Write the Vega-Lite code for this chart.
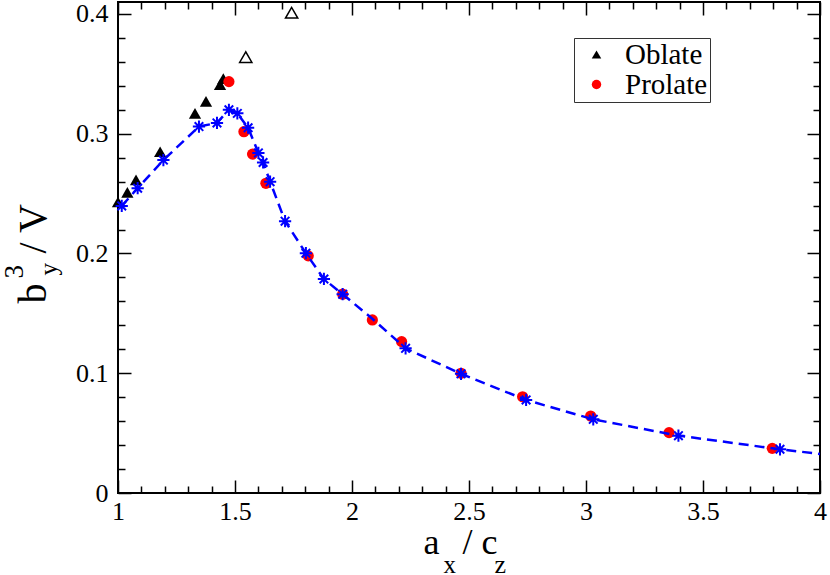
{
  "$schema": "https://vega.github.io/schema/vega-lite/v6.json",
  "width": 702,
  "height": 491,
  "autosize": {"type": "none"},
  "padding": {"left": 118, "top": 2, "right": 10, "bottom": 82},
  "background": "white",
  "datasets": {
    "oblate_a": [
      {"x": 1.0, "y": 0.243, "type": "Oblate"},
      {"x": 1.04, "y": 0.251, "type": "Oblate"},
      {"x": 1.077, "y": 0.2615, "type": "Oblate"},
      {"x": 1.18, "y": 0.285, "type": "Oblate"}
    ],
    "oblate_b": [
      {"x": 1.329, "y": 0.317, "type": "Oblate"},
      {"x": 1.376, "y": 0.327, "type": "Oblate"},
      {"x": 1.436, "y": 0.341, "type": "Oblate"},
      {"x": 1.45, "y": 0.346, "type": "Oblate"}
    ],
    "open": [
      {"x": 1.546, "y": 0.364},
      {"x": 1.742, "y": 0.401}
    ],
    "prolate_a": [
      {"x": 1.474, "y": 0.3435, "type": "Prolate"},
      {"x": 1.538, "y": 0.3017, "type": "Prolate"},
      {"x": 1.575, "y": 0.283, "type": "Prolate"},
      {"x": 1.632, "y": 0.2586, "type": "Prolate"},
      {"x": 1.813, "y": 0.198, "type": "Prolate"},
      {"x": 1.96, "y": 0.166, "type": "Prolate"},
      {"x": 2.087, "y": 0.1445, "type": "Prolate"}
    ],
    "prolate_b": [
      {"x": 2.212, "y": 0.1264, "type": "Prolate"},
      {"x": 2.466, "y": 0.1, "type": "Prolate"},
      {"x": 2.729, "y": 0.0804, "type": "Prolate"},
      {"x": 3.02, "y": 0.0643, "type": "Prolate"},
      {"x": 3.355, "y": 0.0504, "type": "Prolate"},
      {"x": 3.796, "y": 0.0373, "type": "Prolate"}
    ],
    "stars_a": [
      {"x": 1.016, "y": 0.2397},
      {"x": 1.084, "y": 0.2545},
      {"x": 1.194, "y": 0.278},
      {"x": 1.346, "y": 0.306},
      {"x": 1.423, "y": 0.309},
      {"x": 1.474, "y": 0.32},
      {"x": 1.51, "y": 0.317},
      {"x": 1.556, "y": 0.305},
      {"x": 1.6, "y": 0.284},
      {"x": 1.62, "y": 0.276},
      {"x": 1.65, "y": 0.26}
    ],
    "stars_b": [
      {"x": 1.714, "y": 0.227},
      {"x": 1.803, "y": 0.2002},
      {"x": 1.88, "y": 0.1787},
      {"x": 1.96, "y": 0.166},
      {"x": 2.229, "y": 0.1208},
      {"x": 2.466, "y": 0.0995},
      {"x": 2.744, "y": 0.0777},
      {"x": 3.031, "y": 0.0615},
      {"x": 3.395, "y": 0.0479},
      {"x": 3.829, "y": 0.0365}
    ],
    "curve": [
      {"x": 1.016, "y": 0.2397},
      {"x": 1.084, "y": 0.2545},
      {"x": 1.194, "y": 0.278},
      {"x": 1.346, "y": 0.306},
      {"x": 1.423, "y": 0.309},
      {"x": 1.474, "y": 0.32},
      {"x": 1.51, "y": 0.317},
      {"x": 1.556, "y": 0.305},
      {"x": 1.6, "y": 0.284},
      {"x": 1.62, "y": 0.276},
      {"x": 1.65, "y": 0.26},
      {"x": 1.714, "y": 0.227},
      {"x": 1.803, "y": 0.2002},
      {"x": 1.88, "y": 0.1787},
      {"x": 1.96, "y": 0.166},
      {"x": 2.087, "y": 0.1455},
      {"x": 2.229, "y": 0.1208},
      {"x": 2.466, "y": 0.0995},
      {"x": 2.744, "y": 0.0777},
      {"x": 3.031, "y": 0.0615},
      {"x": 3.395, "y": 0.0479},
      {"x": 3.829, "y": 0.0365},
      {"x": 4.0, "y": 0.0326}
    ]
  },
  "resolve": {"axis": {"x": "independent", "y": "independent"}},
  "layer": [
    {
      "data": {"name": "oblate_a"},
      "mark": {"type": "point", "filled": true, "opacity": 1, "size": 150, "strokeWidth": 0},
      "encoding": {
        "x": {
          "field": "x", "type": "quantitative",
          "scale": {"domain": [1, 4], "nice": false, "zero": false},
          "axis": {
            "orient": "bottom", "values": [1, 1.5, 2, 2.5, 3, 3.5, 4], "format": "~g",
            "ticks": false, "tickSize": 0, "labelFont": "Liberation Serif", "labelFontSize": 26, "labelPadding": 5,
            "labelFlush": false, "labelOverlap": false,
            "title": "a", "titleFont": "Liberation Serif", "titleFontSize": 36, "titleX": 305, "titleY": 60,
            "titleAlign": "left", "titleBaseline": "alphabetic"
          }
        },
        "y": {
          "field": "y", "type": "quantitative",
          "scale": {"domain": [0, 0.41], "nice": false, "zero": false},
          "axis": {
            "orient": "left", "values": [0, 0.1, 0.2, 0.3, 0.4], "format": "~g",
            "ticks": false, "tickSize": 0, "labelFont": "Liberation Serif", "labelFontSize": 26, "labelPadding": 10,
            "labelFlush": false, "labelOverlap": false,
            "title": "b", "titleFont": "Liberation Serif", "titleFontSize": 40, "titleAngle": 270, "titleX": -73, "titleY": 301,
            "titleAlign": "left", "titleBaseline": "alphabetic"
          }
        },
        "color": {
          "field": "type", "type": "nominal",
          "scale": {"domain": ["Oblate", "Prolate"], "range": ["black", "#ff0000"]},
          "legend": {"title": null, "labelFont": "Liberation Serif"}
        },
        "shape": {
          "field": "type", "type": "nominal",
          "scale": {"domain": ["Oblate", "Prolate"], "range": ["triangle-up", "circle"]},
          "legend": {"title": null, "labelFont": "Liberation Serif"}
        }
      }
    },
    {
      "data": {"name": "oblate_b"},
      "mark": {"type": "point", "filled": true, "opacity": 1, "size": 150, "strokeWidth": 0},
      "encoding": {
        "x": {
          "field": "x", "type": "quantitative",
          "scale": {"domain": [1, 4], "nice": false, "zero": false},
          "axis": {
            "orient": "bottom", "values": [1, 1.5, 2, 2.5, 3, 3.5, 4],
            "labels": false, "offset": -13, "tickSize": 13, "tickColor": "black", "tickWidth": 1.5, "title": null
          }
        },
        "y": {
          "field": "y", "type": "quantitative",
          "scale": {"domain": [0, 0.41], "nice": false, "zero": false},
          "axis": {
            "orient": "left", "values": [0, 0.1, 0.2, 0.3, 0.4],
            "labels": false, "offset": -13, "tickSize": 13, "tickColor": "black", "tickWidth": 1.5, "title": null
          }
        },
        "color": {
          "field": "type", "type": "nominal",
          "scale": {"domain": ["Oblate", "Prolate"], "range": ["black", "#ff0000"]},
          "legend": {"title": null, "labelFont": "Liberation Serif"}
        },
        "shape": {
          "field": "type", "type": "nominal",
          "scale": {"domain": ["Oblate", "Prolate"], "range": ["triangle-up", "circle"]},
          "legend": {"title": null, "labelFont": "Liberation Serif"}
        }
      }
    },
    {
      "data": {"name": "open"},
      "mark": {"type": "point", "shape": "triangle-up", "filled": false, "color": "black", "opacity": 1, "size": 150, "strokeWidth": 1.5},
      "encoding": {
        "x": {
          "field": "x", "type": "quantitative",
          "scale": {"domain": [1, 4], "nice": false, "zero": false},
          "axis": {
            "orient": "bottom",
            "values": [1.1, 1.2, 1.3, 1.4, 1.6, 1.7, 1.8, 1.9, 2.1, 2.2, 2.3, 2.4, 2.6, 2.7, 2.8, 2.9, 3.1, 3.2, 3.3, 3.4, 3.6, 3.7, 3.8, 3.9],
            "labels": false, "offset": -7, "tickSize": 7, "tickColor": "black", "tickWidth": 1.5, "title": null
          }
        },
        "y": {
          "field": "y", "type": "quantitative",
          "scale": {"domain": [0, 0.41], "nice": false, "zero": false},
          "axis": {
            "orient": "left",
            "values": [0.02, 0.04, 0.06, 0.08, 0.12, 0.14, 0.16, 0.18, 0.22, 0.24, 0.26, 0.28, 0.32, 0.34, 0.36, 0.38],
            "labels": false, "offset": -7, "tickSize": 7, "tickColor": "black", "tickWidth": 1.5, "title": null
          }
        }
      }
    },
    {
      "data": {"name": "prolate_a"},
      "mark": {"type": "point", "filled": true, "opacity": 1, "size": 125, "strokeWidth": 0},
      "encoding": {
        "x": {
          "field": "x", "type": "quantitative",
          "scale": {"domain": [1, 4], "nice": false, "zero": false},
          "axis": {
            "orient": "top", "values": [1, 1.5, 2, 2.5, 3, 3.5, 4],
            "labels": false, "offset": -13, "tickSize": 13, "tickColor": "black", "tickWidth": 1.5, "title": null
          }
        },
        "y": {
          "field": "y", "type": "quantitative",
          "scale": {"domain": [0, 0.41], "nice": false, "zero": false},
          "axis": {
            "orient": "right", "values": [0, 0.1, 0.2, 0.3, 0.4],
            "labels": false, "offset": -13, "tickSize": 13, "tickColor": "black", "tickWidth": 1.5, "title": null
          }
        },
        "color": {
          "field": "type", "type": "nominal",
          "scale": {"domain": ["Oblate", "Prolate"], "range": ["black", "#ff0000"]},
          "legend": {"title": null, "labelFont": "Liberation Serif"}
        },
        "shape": {
          "field": "type", "type": "nominal",
          "scale": {"domain": ["Oblate", "Prolate"], "range": ["triangle-up", "circle"]},
          "legend": {"title": null, "labelFont": "Liberation Serif"}
        }
      }
    },
    {
      "data": {"name": "prolate_b"},
      "mark": {"type": "point", "filled": true, "opacity": 1, "size": 125, "strokeWidth": 0},
      "encoding": {
        "x": {
          "field": "x", "type": "quantitative",
          "scale": {"domain": [1, 4], "nice": false, "zero": false},
          "axis": {
            "orient": "top",
            "values": [1.1, 1.2, 1.3, 1.4, 1.6, 1.7, 1.8, 1.9, 2.1, 2.2, 2.3, 2.4, 2.6, 2.7, 2.8, 2.9, 3.1, 3.2, 3.3, 3.4, 3.6, 3.7, 3.8, 3.9],
            "labels": false, "offset": -7, "tickSize": 7, "tickColor": "black", "tickWidth": 1.5, "title": null
          }
        },
        "y": {
          "field": "y", "type": "quantitative",
          "scale": {"domain": [0, 0.41], "nice": false, "zero": false},
          "axis": {
            "orient": "right",
            "values": [0.02, 0.04, 0.06, 0.08, 0.12, 0.14, 0.16, 0.18, 0.22, 0.24, 0.26, 0.28, 0.32, 0.34, 0.36, 0.38],
            "labels": false, "offset": -7, "tickSize": 7, "tickColor": "black", "tickWidth": 1.5, "title": null
          }
        },
        "color": {
          "field": "type", "type": "nominal",
          "scale": {"domain": ["Oblate", "Prolate"], "range": ["black", "#ff0000"]},
          "legend": {"title": null, "labelFont": "Liberation Serif"}
        },
        "shape": {
          "field": "type", "type": "nominal",
          "scale": {"domain": ["Oblate", "Prolate"], "range": ["triangle-up", "circle"]},
          "legend": {"title": null, "labelFont": "Liberation Serif"}
        }
      }
    },
    {
      "data": {"name": "curve"},
      "mark": {"type": "line", "color": "#0000ff", "strokeWidth": 2.5, "strokeDash": [10, 6]},
      "encoding": {
        "x": {
          "field": "x", "type": "quantitative",
          "scale": {"domain": [1, 4], "nice": false, "zero": false},
          "axis": {
            "orient": "bottom", "ticks": false, "labels": false, "domain": false,
            "title": "x", "titleFont": "Liberation Serif", "titleFontSize": 25, "titleX": 325, "titleY": 79,
            "titleAlign": "left", "titleBaseline": "alphabetic"
          }
        },
        "y": {
          "field": "y", "type": "quantitative",
          "scale": {"domain": [0, 0.41], "nice": false, "zero": false},
          "axis": {
            "orient": "left", "ticks": false, "labels": false, "domain": false,
            "title": "3", "titleFont": "Liberation Serif", "titleFontSize": 27, "titleAngle": 270, "titleX": -96, "titleY": 276,
            "titleAlign": "left", "titleBaseline": "alphabetic"
          }
        }
      }
    },
    {
      "data": {"name": "stars_a"},
      "mark": {"type": "point", "shape": "M-1,0H1M0,-1V1M-0.7,-0.7L0.7,0.7M-0.7,0.7L0.7,-0.7", "filled": false, "color": "#0000ff", "opacity": 1, "size": 150, "strokeWidth": 2},
      "encoding": {
        "x": {
          "field": "x", "type": "quantitative",
          "scale": {"domain": [1, 4], "nice": false, "zero": false},
          "axis": {
            "orient": "bottom", "ticks": false, "labels": false, "domain": false,
            "title": "/ c", "titleFont": "Liberation Serif", "titleFontSize": 36, "titleX": 344, "titleY": 60,
            "titleAlign": "left", "titleBaseline": "alphabetic"
          }
        },
        "y": {
          "field": "y", "type": "quantitative",
          "scale": {"domain": [0, 0.41], "nice": false, "zero": false},
          "axis": {
            "orient": "left", "ticks": false, "labels": false, "domain": false,
            "title": "y", "titleFont": "Liberation Serif", "titleFontSize": 25, "titleAngle": 270, "titleX": -62, "titleY": 273,
            "titleAlign": "left", "titleBaseline": "alphabetic"
          }
        }
      }
    },
    {
      "data": {"name": "stars_b"},
      "mark": {"type": "point", "shape": "M-1,0H1M0,-1V1M-0.7,-0.7L0.7,0.7M-0.7,0.7L0.7,-0.7", "filled": false, "color": "#0000ff", "opacity": 1, "size": 150, "strokeWidth": 2},
      "encoding": {
        "x": {
          "field": "x", "type": "quantitative",
          "scale": {"domain": [1, 4], "nice": false, "zero": false},
          "axis": {
            "orient": "bottom", "ticks": false, "labels": false, "domain": false,
            "title": "z", "titleFont": "Liberation Serif", "titleFontSize": 26, "titleX": 376, "titleY": 79,
            "titleAlign": "left", "titleBaseline": "alphabetic"
          }
        },
        "y": {
          "field": "y", "type": "quantitative",
          "scale": {"domain": [0, 0.41], "nice": false, "zero": false},
          "axis": {
            "orient": "left", "ticks": false, "labels": false, "domain": false,
            "title": "/ V", "titleFont": "Liberation Serif", "titleFontSize": 40, "titleAngle": 270, "titleX": -73, "titleY": 251,
            "titleAlign": "left", "titleBaseline": "alphabetic"
          }
        }
      }
    }
  ],
  "config": {
    "font": "Liberation Serif",
    "view": {"stroke": "black", "strokeWidth": 2},
    "axis": {
      "grid": false, "domain": false,
      "labelFont": "Liberation Serif", "labelColor": "black",
      "titleFont": "Liberation Serif", "titleColor": "black", "titleFontWeight": "normal"
    },
    "legend": {
      "orient": "none", "legendX": 456, "legendY": 36,
      "strokeColor": "#333333", "fillColor": "white", "padding": 2,
      "labelFont": "Liberation Serif", "labelFontSize": 29, "labelColor": "black",
      "labelOffset": 14, "symbolSize": 90, "symbolOffset": 6, "symbolStrokeWidth": 0, "rowPadding": -2
    }
  }
}
